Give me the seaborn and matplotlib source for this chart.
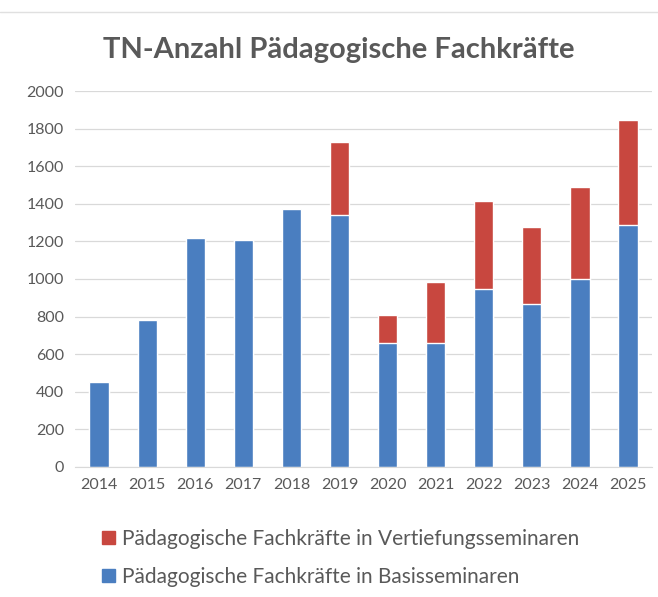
import matplotlib
matplotlib.use("Agg")
import matplotlib.pyplot as plt
import pandas as pd
import seaborn as sns
from matplotlib.patches import Patch

years = ["2014", "2015", "2016", "2017", "2018", "2019",
         "2020", "2021", "2022", "2023", "2024", "2025"]
basis = [450, 780, 1220, 1205, 1370, 1340, 660, 660, 945, 865, 1000, 1285]
vertiefung = [0, 0, 0, 0, 0, 390, 150, 325, 470, 410, 490, 560]

label_v = "Pädagogische Fachkräfte in Vertiefungsseminaren"
label_b = "Pädagogische Fachkräfte in Basisseminaren"
blue = "#4A7EC0"
red = "#C8473F"
grey = "#595959"

df = pd.DataFrame({"year": years, "basis": basis, "vertiefung": vertiefung})
df["total"] = df["basis"] + df["vertiefung"]

sns.set_style("white")
plt.rcParams["font.family"] = ["Lato", "DejaVu Sans"]

fig = plt.figure(figsize=(6.58, 5.97), dpi=100)
ax = fig.add_axes([0.114, 0.218, 0.877, 0.6295])

# stacked look: totals in red first, basis in blue drawn over them
sns.barplot(data=df, x="year", y="total", color=red, width=0.4,
            saturation=1, ax=ax)
sns.barplot(data=df, x="year", y="basis", color=blue, width=0.4,
            saturation=1, ax=ax)

ax.set_ylim(0, 2000)
ax.set_yticks(range(0, 2001, 200))
ax.yaxis.grid(True, color="#D9D9D9", lw=0.9)
ax.set_axisbelow(True)
for s in ["top", "right", "left"]:
    ax.spines[s].set_visible(False)
ax.spines["bottom"].set_color("#D9D9D9")
ax.set_xlabel("")
ax.set_ylabel("")
ax.tick_params(axis="both", length=0, labelsize=11.5, colors=grey, pad=8)

fig.text(339 / 658, 1 - 50 / 597, "TN-Anzahl Pädagogische Fachkräfte",
         ha="center", va="center", fontsize=21, fontweight="bold",
         color=grey)

handles = [Patch(color=red, label=label_v), Patch(color=blue, label=label_b)]
fig.legend(handles=handles, loc="upper left",
           bbox_to_anchor=(102 / 658, 1 - 529 / 597), frameon=False,
           fontsize=15, labelcolor=grey, handlelength=0.6, handleheight=0.6,
           handletextpad=0.35, labelspacing=0.85, borderpad=0,
           borderaxespad=0)

fig.add_artist(plt.Line2D([0, 1], [1 - 12 / 597] * 2, color="#E0E0E0", lw=1))

fig.savefig("out.png", dpi=100)
